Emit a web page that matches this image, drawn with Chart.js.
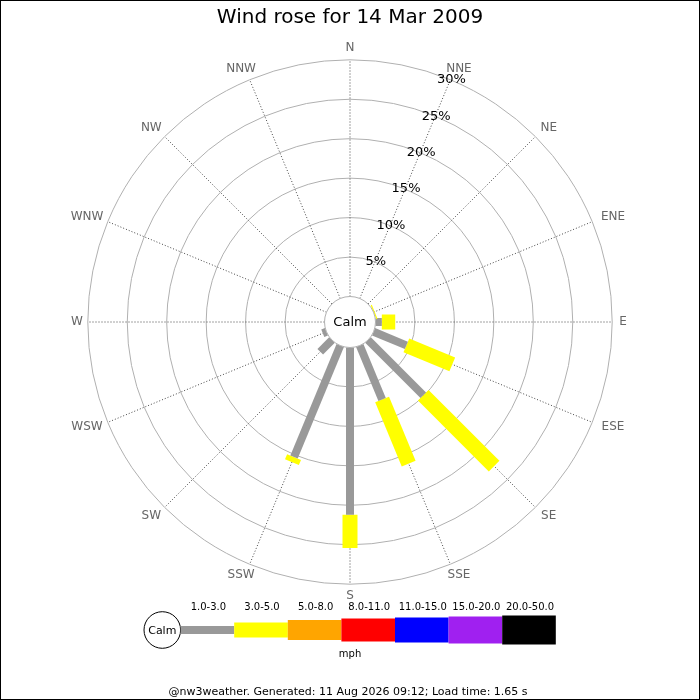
<!DOCTYPE html>
<html>
<head>
<meta charset="utf-8">
<title>Wind rose</title>
<script src="https://cdn.jsdelivr.net/npm/chart.js@4.4.0/dist/chart.umd.min.js"></script>
<style>
  html, body { margin: 0; padding: 0; background: #fff; }
  #wrap { width: 700px; height: 700px; position: relative; }
</style>
</head>
<body>
<div id="wrap"><canvas id="rose"></canvas></div>
<script>
// chart data
const titleText = 'Wind rose for 14 Mar 2009';
const directions = ['N', 'NNE', 'NE', 'ENE', 'E', 'ESE', 'SE', 'SSE',
                    'S', 'SSW', 'SW', 'WSW', 'W', 'WNW', 'NW', 'NNW'];
const speedBands = ['1.0-3.0', '3.0-5.0', '5.0-8.0', '8.0-11.0', '11.0-15.0', '15.0-20.0', '20.0-50.0'];
// % of time per direction, one array per speed band (mph)
const band1to3 = [0, 0, 0, 0, 0.8, 4.5, 9.9, 7.4, 21.2, 15.3, 2.1, 0.5, 0, 0, 0, 0];
const band3to5 = [0, 0, 0, 0.15, 1.7, 6.3, 12.7, 8.8, 4.2, 0.7, 0, 0, 0, 0, 0, 0];
const ringTicks = [5, 10, 15, 20, 25, 30];
const unitText = 'mph';
const footerText = '@nw3weather. Generated: 11 Aug 2026 09:12; Load time: 1.65 s';

// styles
const bandColors = ['#999999', '#ffff00', '#ffa500', '#ff0000', '#0000ff', '#a020f0', '#000000'];
const bandThickness = [8, 15, 20, 23, 25, 27, 29];
const FONT = '"DejaVu Sans", Verdana, sans-serif';

// geometry: pixels per percent and the calm circle offset (in % units)
const PX_PER_PCT = 7.89;
const CALM = 25.5 / PX_PER_PCT;
const CENTER_X = 350, CENTER_Y = 322, SIZE = 700;

const bandValues = [band1to3, band3to5];

function polar(dirIndex, r) {
  const a = dirIndex * Math.PI / 8;
  return { x: r * Math.sin(a), y: r * Math.cos(a) };
}

// one line segment per direction per band, stacked outward
const datasets = [];
directions.forEach((d, i) => {
  let cum = 0;
  bandValues.forEach((vals, b) => {
    const v = vals[i];
    if (v > 0) {
      datasets.push({
        data: [polar(i, CALM + cum), polar(i, CALM + cum + v)],
        showLine: true,
        borderColor: bandColors[b],
        borderWidth: bandThickness[b],
        borderCapStyle: 'butt',
        pointRadius: 0
      });
    }
    cum += v;
  });
});
// dotted spokes, drawn underneath (added last)
directions.forEach((d, i) => {
  datasets.push({
    data: [polar(i, CALM), polar(i, CALM + ringTicks[ringTicks.length - 1])],
    showLine: true,
    borderColor: '#444',
    borderWidth: 1,
    borderDash: [1, 2],
    pointRadius: 0
  });
});

const rosePlugin = {
  id: 'rose',
  beforeDatasetsDraw(chart) {
    const { ctx, scales: { x, y } } = chart;
    const cx = x.getPixelForValue(0), cy = y.getPixelForValue(0);
    ctx.save();
    ctx.strokeStyle = '#b0b0b0';
    ctx.lineWidth = 1;
    ringTicks.forEach(t => {
      const r = x.getPixelForValue(CALM + t) - cx;
      ctx.beginPath();
      ctx.arc(cx, cy, r, 0, Math.PI * 2);
      ctx.stroke();
    });
    ctx.restore();
  },
  afterDatasetsDraw(chart) {
    const { ctx, scales: { x, y } } = chart;
    const cx = x.getPixelForValue(0), cy = y.getPixelForValue(0);
    const calmR = x.getPixelForValue(CALM) - cx;
    ctx.save();
    // calm circle
    ctx.beginPath();
    ctx.arc(cx, cy, calmR, 0, Math.PI * 2);
    ctx.fillStyle = '#fff';
    ctx.fill();
    ctx.strokeStyle = '#b0b0b0';
    ctx.stroke();
    ctx.fillStyle = '#000';
    ctx.font = '13px ' + FONT;
    ctx.textAlign = 'center';
    ctx.textBaseline = 'middle';
    ctx.fillText('Calm', cx, cy + 1);

    // direction labels
    ctx.fillStyle = '#666';
    ctx.font = '12px ' + FONT;
    directions.forEach((d, i) => {
      const a = i * Math.PI / 8;
      const s = Math.sin(a), c = Math.cos(a);
      const rx = 273 + 16 * Math.abs(s * c) + 6 * Math.abs(Math.sin(4 * a));
      ctx.fillText(d, cx + rx * s, cy - 274 * c);
    });

    // percentage labels along NNE
    ctx.fillStyle = '#000';
    ctx.font = '13px ' + FONT;
    const a1 = Math.PI / 8;
    ringTicks.forEach(t => {
      const r = x.getPixelForValue(CALM + t) - cx;
      ctx.fillText(t + '%', cx + r * Math.sin(a1) + 1, cy - r * Math.cos(a1));
    });

    // title
    ctx.font = '20px ' + FONT;
    ctx.fillText(titleText, SIZE / 2, 18);

    // speed legend
    const lcx = 162.3, lcy = 630, lr = 18.3;
    ctx.beginPath();
    ctx.arc(lcx, lcy, lr, 0, Math.PI * 2);
    ctx.strokeStyle = '#000';
    ctx.lineWidth = 1;
    ctx.stroke();
    ctx.font = '11px ' + FONT;
    ctx.fillText('Calm', lcx, lcy + 1);
    const segW = 53.6;
    let sx = lcx + lr;
    ctx.font = '10px ' + FONT;
    speedBands.forEach((lab, b) => {
      const h = bandThickness[b];
      ctx.fillStyle = bandColors[b];
      ctx.fillRect(sx, lcy - h / 2, segW, h);
      ctx.fillStyle = '#000';
      ctx.fillText(lab, sx + segW / 2 + 1, 607);
      sx += segW;
    });
    ctx.fillText(unitText, 350, 654);

    // footer
    ctx.font = '11px ' + FONT;
    ctx.fillText(footerText, 348, 692);

    // border
    ctx.strokeStyle = '#000';
    ctx.strokeRect(0.5, 0.5, SIZE - 1, SIZE - 1);
    ctx.restore();
  }
};

new Chart(document.getElementById('rose'), {
  type: 'scatter',
  data: { datasets },
  options: {
    responsive: true,
    maintainAspectRatio: false,
    animation: false,
    layout: { padding: 0 },
    scales: {
      x: { type: 'linear', display: false,
           min: -CENTER_X / PX_PER_PCT, max: (SIZE - CENTER_X) / PX_PER_PCT },
      y: { type: 'linear', display: false,
           min: -(SIZE - CENTER_Y) / PX_PER_PCT, max: CENTER_Y / PX_PER_PCT }
    },
    plugins: {
      legend: { display: false },
      tooltip: { enabled: false }
    }
  },
  plugins: [rosePlugin]
});
</script>
</body>
</html>
